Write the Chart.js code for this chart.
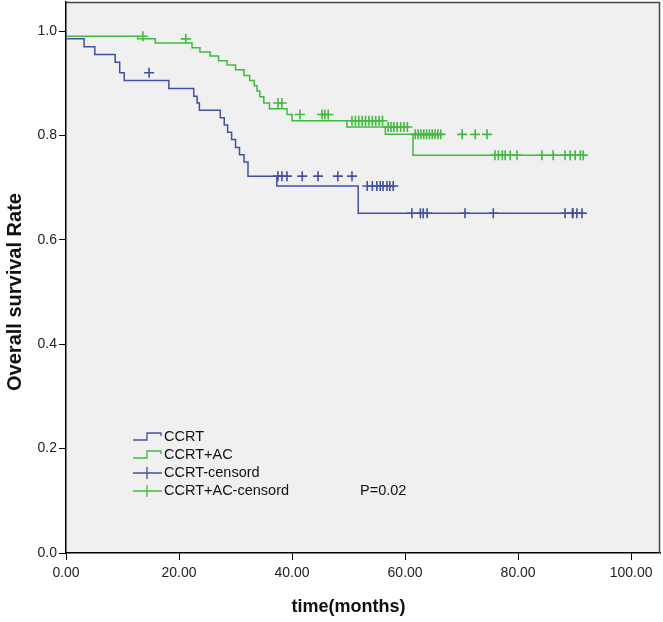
<!DOCTYPE html>
<html>
<head>
<meta charset="utf-8">
<script src="https://cdn.jsdelivr.net/npm/chart.js@4.4.0/dist/chart.umd.min.js"></script>
<style>
html, body { margin: 0; padding: 0; background: #fff; }
#wrap { position: relative; width: 663px; height: 622px; }
</style>
</head>
<body>
<div id="wrap"><canvas id="kmChart" width="663" height="622"></canvas></div>
<script>
// Kaplan-Meier data (months, survival)
const ccrtTimes = [3.2, 5.1, 8.7, 9.5, 10.3, 18.2, 22.6, 23.2, 23.6, 27.3, 28.0, 28.6, 29.3, 30.0, 30.7, 31.5, 32.2, 37.3, 51.7, 58.6];
const ccrtSurv  = [0.985, 0.97, 0.955, 0.94, 0.92, 0.905, 0.89, 0.875, 0.862, 0.848, 0.834, 0.82, 0.806, 0.792, 0.777, 0.763, 0.749, 0.722, 0.703, 0.651];
const ccrtEnd = 91.9;
const ccrtCensored = [14.7, 37.5, 38.2, 39.1, 41.8, 44.6, 48.1, 50.6, 53.3, 54.2, 55.0, 55.6, 56.1, 56.8, 57.3, 57.9,
                      61.2, 62.7, 63.2, 63.9, 70.6, 75.6, 88.3, 89.6, 89.7, 90.4, 91.3];

const acTimes = [12.7, 15.8, 22.3, 23.7, 25.5, 27.0, 28.5, 30.0, 31.5, 32.5, 33.3, 33.8, 34.3, 35.0, 36.0, 39.1, 40.0, 49.7, 56.5, 61.4, 75.2];
const acSurv  = [0.99, 0.985, 0.977, 0.968, 0.96, 0.952, 0.943, 0.935, 0.926, 0.915, 0.905, 0.895, 0.885, 0.874, 0.862, 0.851, 0.84, 0.828, 0.816, 0.802, 0.762];
const acEnd = 92.0;
const acCensored = [13.6, 21.2, 37.5, 38.2, 41.4, 45.3, 45.8, 46.4,
                    50.6, 51.2, 51.8, 52.4, 53.0, 53.6, 54.2, 54.8, 55.4, 56.0,
                    57.0, 57.5, 58.0, 58.6, 59.2, 59.8, 60.4,
                    61.8, 62.3, 62.8, 63.3, 63.8, 64.3, 64.8, 65.3, 65.8, 66.3,
                    70.1, 72.4, 74.5,
                    75.9, 76.5, 77.2, 77.7, 78.6, 79.8, 84.2, 86.2, 88.3, 89.2, 90.1, 91.0, 91.5];

const xTicks = [0, 20, 40, 60, 80, 100];
const yTicks = [0, 0.2, 0.4, 0.6, 0.8, 1.0];
const legendLabels = ['CCRT', 'CCRT+AC', 'CCRT-censord', 'CCRT+AC-censord'];
const pValueText = 'P=0.02';
const xTitle = 'time(months)';
const yTitle = 'Overall survival Rate';

const BLUE = '#4050a4';
const GREEN = '#3fba3f';
const FONT = "'Liberation Sans', Arial, sans-serif";

// step curve points
function stepPoints(times, surv, end) {
    const pts = [{ x: 0, y: 1 }];
    times.forEach((t, i) => pts.push({ x: t, y: surv[i] }));
    pts.push({ x: end, y: surv[surv.length - 1] });
    return pts;
}

// survival value at time t from the step function
function survAt(times, surv, t) {
    let s = 1;
    for (let i = 0; i < times.length; i++) {
        if (times[i] <= t) s = surv[i];
    }
    return s;
}

function censorPoints(times, surv, cens) {
    return cens.map(t => ({ x: t, y: survAt(times, surv, t) }));
}

// gray plot background + frame
const plotFrame = {
    id: 'plotFrame',
    beforeDraw(chart) {
        const a = chart.chartArea;
        const ctx = chart.ctx;
        ctx.save();
        ctx.fillStyle = '#f0f0f0';
        ctx.fillRect(a.left, a.top, a.right - a.left, a.bottom - a.top);
        ctx.restore();
    },
    afterDraw(chart) {
        const a = chart.chartArea;
        const ctx = chart.ctx;
        ctx.save();
        ctx.strokeStyle = '#444';
        ctx.lineWidth = 1.5;
        ctx.beginPath();
        ctx.moveTo(a.left, a.top + 0.5);
        ctx.lineTo(a.right - 0.5, a.top + 0.5);
        ctx.lineTo(a.right - 0.5, a.bottom);
        ctx.stroke();
        ctx.restore();
    }
};

// axis titles, centred on the 0..100 / 0..1 axis ranges like SPSS does
const axisTitles = {
    id: 'axisTitles',
    afterDraw(chart) {
        const ctx = chart.ctx;
        const xs = chart.scales.x, ys = chart.scales.y;
        ctx.save();
        ctx.fillStyle = '#111';
        ctx.textAlign = 'center';
        ctx.textBaseline = 'middle';
        ctx.font = 'bold 18px ' + FONT;
        ctx.fillText(xTitle, (xs.getPixelForValue(0) + xs.getPixelForValue(100)) / 2, 607);
        ctx.translate(15, (ys.getPixelForValue(0) + ys.getPixelForValue(1)) / 2);
        ctx.rotate(-Math.PI / 2);
        ctx.font = 'bold 20px ' + FONT;
        ctx.fillText(yTitle, 0, 0);
        ctx.restore();
    }
};

// SPSS-like legend inside the plot
const kmLegend = {
    id: 'kmLegend',
    afterDraw(chart) {
        const ctx = chart.ctx;
        const x0 = 133, y0 = 437, row = 18, w = 29;
        const colors = [BLUE, GREEN, BLUE, GREEN];
        ctx.save();
        ctx.font = '14.5px ' + FONT;
        ctx.textBaseline = 'middle';
        legendLabels.forEach((lab, i) => {
            const y = y0 + i * row;
            ctx.strokeStyle = colors[i];
            ctx.lineWidth = 1.3;
            ctx.beginPath();
            if (i < 2) {
                ctx.moveTo(x0, y + 3);
                ctx.lineTo(x0 + 14, y + 3);
                ctx.lineTo(x0 + 14, y - 4);
                ctx.lineTo(x0 + w - 1, y - 4);
                ctx.lineTo(x0 + w - 1, y - 1);
            } else {
                ctx.moveTo(x0, y);
                ctx.lineTo(x0 + w, y);
                ctx.moveTo(x0 + 14, y - 6);
                ctx.lineTo(x0 + 14, y + 6);
            }
            ctx.stroke();
            ctx.fillStyle = '#111';
            ctx.fillText(lab, x0 + w + 2, y);
        });
        ctx.fillText(pValueText, 360, y0 + 3 * row);
        ctx.restore();
    }
};

const ctx = document.getElementById('kmChart');
new Chart(ctx, {
    type: 'scatter',
    data: {
        datasets: [
            {
                label: 'CCRT',
                data: stepPoints(ccrtTimes, ccrtSurv, ccrtEnd),
                showLine: true,
                stepped: 'after',
                borderColor: BLUE,
                borderWidth: 1.5,
                pointRadius: 0,
                fill: false
            },
            {
                label: 'CCRT+AC',
                data: stepPoints(acTimes, acSurv, acEnd),
                showLine: true,
                stepped: 'after',
                borderColor: GREEN,
                borderWidth: 1.5,
                pointRadius: 0,
                fill: false
            },
            {
                label: 'CCRT-censord',
                data: censorPoints(ccrtTimes, ccrtSurv, ccrtCensored),
                showLine: false,
                pointStyle: 'cross',
                pointRadius: 5,
                pointBorderWidth: 1.6,
                borderColor: BLUE,
                backgroundColor: BLUE
            },
            {
                label: 'CCRT+AC-censord',
                data: censorPoints(acTimes, acSurv, acCensored),
                showLine: false,
                pointStyle: 'cross',
                pointRadius: 5,
                pointBorderWidth: 1.6,
                borderColor: GREEN,
                backgroundColor: GREEN
            }
        ]
    },
    options: {
        responsive: false,
        animation: false,
        devicePixelRatio: 1,
        layout: { autoPadding: false, padding: { top: 2, right: 3, left: 0, bottom: 0 } },
        plugins: {
            legend: { display: false },
            tooltip: { enabled: false }
        },
        scales: {
            x: {
                type: 'linear',
                min: 0,
                max: 105.1,
                afterBuildTicks: scale => { scale.ticks = xTicks.map(v => ({ value: v })); },
                afterFit: scale => {
                    scale.height = 69;
                    scale.paddingLeft = 0;
                    scale.paddingRight = 0;
                },
                ticks: {
                    callback: v => Number(v).toFixed(2),
                    color: '#222',
                    font: { family: FONT, size: 14 },
                    padding: 5,
                    maxRotation: 0
                },
                grid: { drawOnChartArea: false, drawTicks: true, tickLength: 7, color: '#000' },
                border: { color: '#000', width: 1.5 },
                title: { display: false }
            },
            y: {
                type: 'linear',
                min: 0,
                max: 1.0556,
                afterBuildTicks: scale => { scale.ticks = yTicks.map(v => ({ value: v })); },
                afterFit: scale => {
                    scale.width = 66;
                    scale.paddingTop = 0;
                    scale.paddingBottom = 0;
                },
                ticks: {
                    callback: v => Number(v).toFixed(1),
                    color: '#222',
                    font: { family: FONT, size: 14 },
                    padding: 2
                },
                grid: { drawOnChartArea: false, drawTicks: true, tickLength: 7, color: '#000' },
                border: { color: '#000', width: 1.5 },
                title: { display: false }
            }
        }
    },
    plugins: [plotFrame, axisTitles, kmLegend]
});
</script>
</body>
</html>
